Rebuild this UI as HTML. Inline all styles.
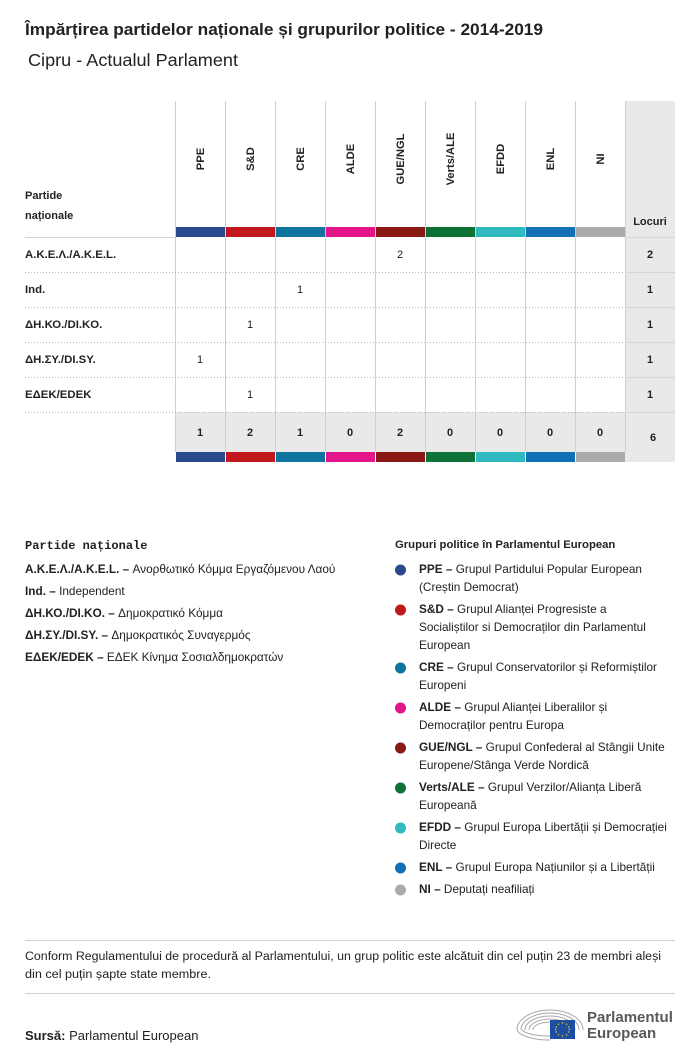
<!DOCTYPE html>
<html><head><meta charset="utf-8"><style>
html,body{margin:0;padding:0;background:#fff;}
svg{display:block;}
text{font-family:"Liberation Sans","DejaVu Sans",sans-serif;fill:#222;}
.b{font-weight:bold;}
</style></head><body>
<svg width="700" height="1061" viewBox="0 0 700 1061" xmlns="http://www.w3.org/2000/svg">
<rect width="700" height="1061" fill="#fff"/>
<text x="25" y="35" class="b" font-size="16.5" textLength="518" lengthAdjust="spacingAndGlyphs">Împărțirea partidelor naționale și grupurilor politice - 2014-2019</text>
<text x="28" y="66" font-size="17.5" fill="#222" textLength="210" lengthAdjust="spacingAndGlyphs">Cipru - Actualul Parlament</text>

<!-- Locuri column bg -->
<rect x="625" y="101" width="50" height="361" fill="#e9e9e9"/>
<!-- totals row bg -->
<rect x="175" y="412" width="450" height="40" fill="#e9e9e9"/>

<!-- vertical lines -->
<g stroke="#cfcfcf" stroke-width="1">
<line x1="175.5" y1="101" x2="175.5" y2="452"/>
<line x1="225.5" y1="101" x2="225.5" y2="452"/>
<line x1="275.5" y1="101" x2="275.5" y2="452"/>
<line x1="325.5" y1="101" x2="325.5" y2="452"/>
<line x1="375.5" y1="101" x2="375.5" y2="452"/>
<line x1="425.5" y1="101" x2="425.5" y2="452"/>
<line x1="475.5" y1="101" x2="475.5" y2="452"/>
<line x1="525.5" y1="101" x2="525.5" y2="452"/>
<line x1="575.5" y1="101" x2="575.5" y2="452"/>
<line x1="625.5" y1="101" x2="625.5" y2="452"/>
</g>

<!-- header bottom line -->
<line x1="25" y1="237.5" x2="175" y2="237.5" stroke="#d0d0d0"/>
<line x1="625" y1="237.5" x2="675" y2="237.5" stroke="#d6d6d6"/>

<!-- dotted row separators -->
<g stroke="#b8b8b8" stroke-width="1" stroke-dasharray="1,2">
<line x1="25" y1="272.5" x2="625" y2="272.5"/>
<line x1="25" y1="307.5" x2="625" y2="307.5"/>
<line x1="25" y1="342.5" x2="625" y2="342.5"/>
<line x1="25" y1="377.5" x2="625" y2="377.5"/>
<line x1="25" y1="412.5" x2="625" y2="412.5"/>
</g>
<g stroke="#d6d6d6" stroke-width="1">
<line x1="625" y1="272.5" x2="675" y2="272.5"/>
<line x1="625" y1="307.5" x2="675" y2="307.5"/>
<line x1="625" y1="342.5" x2="675" y2="342.5"/>
<line x1="625" y1="377.5" x2="675" y2="377.5"/>
<line x1="625" y1="412.5" x2="675" y2="412.5"/>
</g>

<!-- color bars top -->
<g>
<rect x="176" y="227" width="49" height="10" fill="#2b4a8d"/>
<rect x="226" y="227" width="49" height="10" fill="#c0181c"/>
<rect x="276" y="227" width="49" height="10" fill="#0d739f"/>
<rect x="326" y="227" width="49" height="10" fill="#e4148b"/>
<rect x="376" y="227" width="49" height="10" fill="#8a1915"/>
<rect x="426" y="227" width="49" height="10" fill="#0e7135"/>
<rect x="476" y="227" width="49" height="10" fill="#2fbac0"/>
<rect x="526" y="227" width="49" height="10" fill="#1270b7"/>
<rect x="576" y="227" width="49" height="10" fill="#aaaaaa"/>
</g>
<!-- color bars bottom -->
<g>
<rect x="176" y="452" width="49" height="10" fill="#2b4a8d"/>
<rect x="226" y="452" width="49" height="10" fill="#c0181c"/>
<rect x="276" y="452" width="49" height="10" fill="#0d739f"/>
<rect x="326" y="452" width="49" height="10" fill="#e4148b"/>
<rect x="376" y="452" width="49" height="10" fill="#8a1915"/>
<rect x="426" y="452" width="49" height="10" fill="#0e7135"/>
<rect x="476" y="452" width="49" height="10" fill="#2fbac0"/>
<rect x="526" y="452" width="49" height="10" fill="#1270b7"/>
<rect x="576" y="452" width="49" height="10" fill="#aaaaaa"/>
</g>

<!-- header labels -->
<g class="b" font-size="11.2" text-anchor="middle">
<text transform="translate(204,159) rotate(-90)">PPE</text>
<text transform="translate(254,159) rotate(-90)">S&amp;D</text>
<text transform="translate(304,159) rotate(-90)">CRE</text>
<text transform="translate(354,159) rotate(-90)">ALDE</text>
<text transform="translate(404,159) rotate(-90)">GUE/NGL</text>
<text transform="translate(454,159) rotate(-90)">Verts/ALE</text>
<text transform="translate(504,159) rotate(-90)">EFDD</text>
<text transform="translate(554,159) rotate(-90)">ENL</text>
<text transform="translate(604,159) rotate(-90)">NI</text>
</g>
<text x="25" y="199" class="b" font-size="11">Partide</text>
<text x="25" y="219" class="b" font-size="11">naționale</text>
<text x="650" y="225" class="b" font-size="11" text-anchor="middle">Locuri</text>

<!-- row labels -->
<g class="b" font-size="11.4">
<text x="25" y="258">Α.Κ.Ε.Λ./A.K.E.L.</text>
<text x="25" y="293">Ind.</text>
<text x="25" y="328">ΔΗ.ΚΟ./DI.KO.</text>
<text x="25" y="363">ΔΗ.ΣΥ./DI.SY.</text>
<text x="25" y="398">ΕΔΕΚ/EDEK</text>
</g>
<!-- values -->
<g font-size="11" text-anchor="middle" fill="#333">
<text x="400" y="258">2</text>
<text x="300" y="293">1</text>
<text x="250" y="328">1</text>
<text x="200" y="363">1</text>
<text x="250" y="398">1</text>
</g>
<g class="b" font-size="11" text-anchor="middle">
<text x="650" y="258">2</text>
<text x="650" y="293">1</text>
<text x="650" y="328">1</text>
<text x="650" y="363">1</text>
<text x="650" y="398">1</text>
<text x="200" y="436">1</text>
<text x="250" y="436">2</text>
<text x="300" y="436">1</text>
<text x="350" y="436">0</text>
<text x="400" y="436">2</text>
<text x="450" y="436">0</text>
<text x="500" y="436">0</text>
<text x="550" y="436">0</text>
<text x="600" y="436">0</text>
<text x="653" y="441">6</text>
</g>

<!-- left legend -->
<text x="25" y="549" style="font-family:'Liberation Mono',monospace" font-weight="bold" font-size="12">Partide naționale</text>
<g font-size="11.8">
<text x="25" y="573"><tspan class="b">Α.Κ.Ε.Λ./A.K.E.L. –</tspan> Ανορθωτικό Κόμμα Εργαζόμενου Λαού</text>
<text x="25" y="595"><tspan class="b">Ind. –</tspan> Independent</text>
<text x="25" y="617"><tspan class="b">ΔΗ.ΚΟ./DI.KO. –</tspan> Δημοκρατικό Κόμμα</text>
<text x="25" y="639"><tspan class="b">ΔΗ.ΣΥ./DI.SY. –</tspan> Δημοκρατικός Συναγερμός</text>
<text x="25" y="661"><tspan class="b">ΕΔΕΚ/EDEK –</tspan> ΕΔΕΚ Κίνημα Σοσιαλδημοκρατών</text>
</g>

<!-- right legend -->
<text x="395" y="548" class="b" font-size="11.3">Grupuri politice în Parlamentul European</text>
<g>
<circle cx="400.5" cy="570" r="5.5" fill="#2b4a8d"/>
<circle cx="400.5" cy="610" r="5.5" fill="#c0181c"/>
<circle cx="400.5" cy="668" r="5.5" fill="#0d739f"/>
<circle cx="400.5" cy="708" r="5.5" fill="#e4148b"/>
<circle cx="400.5" cy="748" r="5.5" fill="#8a1915"/>
<circle cx="400.5" cy="788" r="5.5" fill="#0e7135"/>
<circle cx="400.5" cy="828" r="5.5" fill="#2fbac0"/>
<circle cx="400.5" cy="868" r="5.5" fill="#1270b7"/>
<circle cx="400.5" cy="890" r="5.5" fill="#aaaaaa"/>
</g>
<g font-size="11.8">
<text x="419" y="573"><tspan class="b">PPE –</tspan> Grupul Partidului Popular European</text>
<text x="419" y="591">(Creștin Democrat)</text>
<text x="419" y="613"><tspan class="b">S&amp;D –</tspan> Grupul Alianței Progresiste a</text>
<text x="419" y="631">Socialiștilor si Democraților din Parlamentul</text>
<text x="419" y="649">European</text>
<text x="419" y="671"><tspan class="b">CRE –</tspan> Grupul Conservatorilor și Reformiștilor</text>
<text x="419" y="689">Europeni</text>
<text x="419" y="711"><tspan class="b">ALDE –</tspan> Grupul Alianței Liberalilor și</text>
<text x="419" y="729">Democraților pentru Europa</text>
<text x="419" y="751"><tspan class="b">GUE/NGL –</tspan> Grupul Confederal al Stângii Unite</text>
<text x="419" y="769">Europene/Stânga Verde Nordică</text>
<text x="419" y="791"><tspan class="b">Verts/ALE –</tspan> Grupul Verzilor/Alianța Liberă</text>
<text x="419" y="809">Europeană</text>
<text x="419" y="831"><tspan class="b">EFDD –</tspan> Grupul Europa Libertății și Democrației</text>
<text x="419" y="849">Directe</text>
<text x="419" y="871"><tspan class="b">ENL –</tspan> Grupul Europa Națiunilor și a Libertății</text>
<text x="419" y="893"><tspan class="b">NI –</tspan> Deputați neafiliați</text>
</g>

<!-- footer -->
<line x1="25" y1="940.5" x2="675" y2="940.5" stroke="#d0d0d0"/>
<text x="25" y="960" font-size="11.5" textLength="636" lengthAdjust="spacingAndGlyphs">Conform Regulamentului de procedură al Parlamentului, un grup politic este alcătuit din cel puțin 23 de membri aleși</text>
<text x="25" y="978" font-size="11.5" textLength="186" lengthAdjust="spacingAndGlyphs">din cel puțin șapte state membre.</text>
<line x1="25" y1="993.5" x2="675" y2="993.5" stroke="#d0d0d0"/>
<text x="25" y="1040" font-size="13"><tspan class="b">Sursă:</tspan> Parlamentul European</text>

<!-- logo -->
<g fill="none" stroke="#a9a9a9" stroke-width="1">
<path d="M517 1030 A33 20 0 0 1 583 1030"/>
<path d="M521 1030 A29 17 0 0 1 579 1030"/>
<path d="M525 1030 A25 14 0 0 1 575 1030"/>
<path d="M529 1030 A21 11 0 0 1 571 1030"/>
<path d="M533 1030 A17 8 0 0 1 567 1030"/>
<path d="M517 1030 A33 12 0 0 0 550 1040"/>
<path d="M522 1030 A28 8 0 0 0 550 1036"/>
</g>
<rect x="550" y="1020" width="25" height="19" fill="#1c4fa1"/>
<g fill="#f2d230">
<circle cx="562.5" cy="1023" r="0.7"/><circle cx="566.5" cy="1024.2" r="0.7"/><circle cx="568.8" cy="1027" r="0.7"/>
<circle cx="569.3" cy="1029.5" r="0.7"/><circle cx="568.8" cy="1032" r="0.7"/><circle cx="566.5" cy="1034.8" r="0.7"/>
<circle cx="562.5" cy="1036" r="0.7"/><circle cx="558.5" cy="1034.8" r="0.7"/><circle cx="556.2" cy="1032" r="0.7"/>
<circle cx="555.7" cy="1029.5" r="0.7"/><circle cx="556.2" cy="1027" r="0.7"/><circle cx="558.5" cy="1024.2" r="0.7"/>
</g>
<text x="587" y="1022" font-size="15" class="b" style="fill:#58595b">Parlamentul</text>
<text x="587" y="1038" font-size="15" class="b" style="fill:#58595b">European</text>
</svg>
</body></html>
